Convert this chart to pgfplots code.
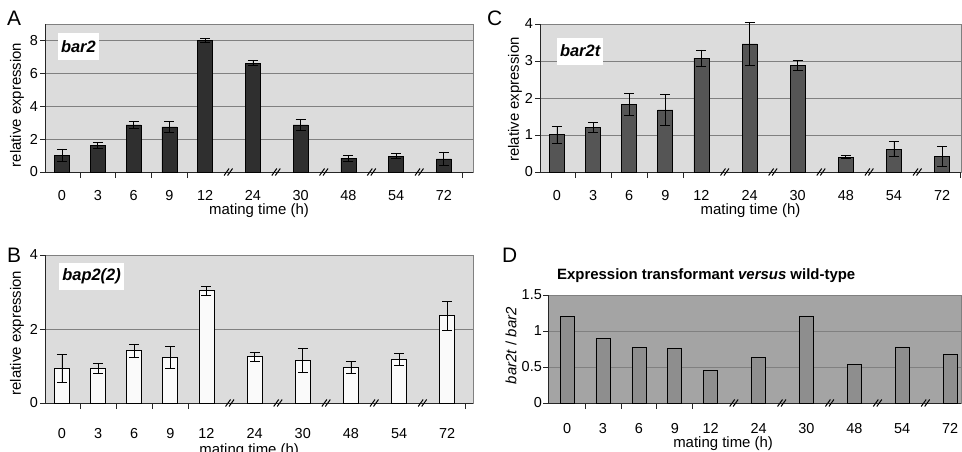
\documentclass[border=0pt]{standalone}
\usepackage{pgfplots}
\pgfplotsset{compat=1.18}
\usepackage{fontspec}
\setmainfont{Liberation Sans}

\definecolor{bgl}{HTML}{DCDCDC}
\definecolor{bgd}{HTML}{A4A4A4}
\definecolor{barA}{HTML}{2F2F2F}
\definecolor{barC}{HTML}{555555}
\definecolor{barB}{HTML}{FAFAFA}
\definecolor{barD}{HTML}{8E8E8E}
\definecolor{gridc}{HTML}{808080}

\pgfdeclareplotmark{brk}{%
  \pgfpathmoveto{\pgfqpoint{-5pt}{-3.5pt}}\pgfpathlineto{\pgfqpoint{0pt}{3.5pt}}%
  \pgfpathmoveto{\pgfqpoint{-1.5pt}{-3.5pt}}\pgfpathlineto{\pgfqpoint{3.5pt}{3.5pt}}%
  \pgfusepathqstroke}

\tikzset{
  lbl/.style={fill=white, inner xsep=3bp, inner ysep=0pt, minimum height=27bp, anchor=north west,
    font=\fontsize{16.5}{16.5}\selectfont\bfseries\itshape},
}

\pgfplotsset{
  panel/.style={
    scale only axis, clip=false, enlargelimits=false,
    axis background/.style={fill=bgl, draw=gridc, line width=0.8pt},
    axis x line*=bottom, axis y line*=left,
    axis line style={-, draw=black!85, line width=0.9pt},
    ymin=0,
    ymajorgrids, grid style={gridc, line width=0.9pt},
    xtick={0,1,2,3,4,5.3333,6.6667,8,9.3333,10.6667},
    xticklabels={0,3,6,9,12,24,30,48,54,72},
    major x tick style={draw=none},
    minor xtick={0.5,1.5,2.5,3.5,11.17},
    minor x tick style={draw=black!85, line width=0.8pt},
    minor tick length=6bp,
    xtick align=center,
    ytick align=outside,
    major tick length=5bp,
    y tick style={draw=black!85, line width=0.8pt},
    tick label style={font=\fontsize{14.5}{14.5}\selectfont},
    /pgf/number format/assume math mode=true,
    label style={font=\fontsize{15}{15}\selectfont},
    yticklabel style={anchor=east, inner sep=0pt, xshift=-2bp},
    ybar, bar width=15bp,
    error bars/y dir=both, error bars/y explicit,
    error bars/error bar style={black, line width=0.8pt},
    error bars/error mark options={rotate=90, mark size=5bp, line width=0.8pt, black},
  },
  brkmarks/.style={only marks, mark=brk, mark options={black, line width=1bp}, forget plot},
}

\begin{document}
\begin{tikzpicture}
\path[use as bounding box] (0,0) rectangle (962bp,-452bp);

% Panel letters
\node[anchor=base west, font=\fontsize{21}{21}\selectfont, inner sep=0pt] at (7bp,-25bp) {A};
\node[anchor=base west, font=\fontsize{21}{21}\selectfont, inner sep=0pt] at (487bp,-25bp) {C};
\node[anchor=base west, font=\fontsize{21}{21}\selectfont, inner sep=0pt] at (7bp,-262bp) {B};
\node[anchor=base west, font=\fontsize{21}{21}\selectfont, inner sep=0pt] at (502bp,-262bp) {D};

% ---------- A ----------
\begin{axis}[panel, at={(45bp,-172bp)}, anchor=south west,
  width=428bp, height=148bp, xmin=-0.475, xmax=11.48, ymax=9,
  ytick={0,2,4,6,8},
  xticklabel style={anchor=base, inner sep=0pt, yshift=-23bp},
  xlabel={mating time (h)},
  xlabel style={at={(axis description cs:0.5,0)}, anchor=base, inner sep=0pt, yshift=-42bp},
  ylabel={relative expression},
  ylabel style={at={(axis description cs:0,0.453)}, anchor=center, inner sep=0pt, yshift=28bp},
]
\addplot[fill=barA, draw=black, line width=0.6pt] table[x=x, y=y, y error=e] {
x y e
0 1.02 0.38
1 1.60 0.17
2 2.86 0.20
3 2.74 0.33
4 8.00 0.12
5.3333 6.62 0.14
6.6667 2.86 0.36
8 0.85 0.18
9.3333 0.97 0.14
10.6667 0.80 0.42
};
\addplot[brkmarks] coordinates {(4.6667,0) (6,0) (7.3333,0) (8.6667,0) (10,0)};
\node[lbl] at (rel axis cs:0.03,0.94) {bar2};
\end{axis}

% ---------- C ----------
\begin{axis}[panel, at={(540bp,-172bp)}, anchor=south west,
  width=421bp, height=148bp, xmin=-0.47, xmax=11.19, ymax=4,
  ytick={0,1,2,3,4},
  bar width=15bp,
  xticklabel style={anchor=base, inner sep=0pt, yshift=-23bp},
  xlabel={mating time (h)},
  xlabel style={at={(axis description cs:0.5,0)}, anchor=base, inner sep=0pt, yshift=-42bp},
  ylabel={relative expression},
  ylabel style={at={(axis description cs:0,0.49)}, anchor=center, inner sep=0pt, yshift=25bp},
]
\addplot[fill=barC, draw=black, line width=0.6pt] table[x=x, y=y, y error=e] {
x y e
0 1.01 0.23
1 1.21 0.13
2 1.83 0.30
3 1.68 0.42
4 3.08 0.22
5.3333 3.46 0.57
6.6667 2.88 0.14
8 0.40 0.04
9.3333 0.62 0.20
10.6667 0.42 0.27
};
\addplot[brkmarks] coordinates {(4.6667,0) (6,0) (7.3333,0) (8.6667,0) (10,0)};
\node[lbl] at (rel axis cs:0.04,0.91) {bar2t};
\end{axis}

% ---------- B ----------
\begin{axis}[panel, at={(45bp,-403bp)}, anchor=south west,
  width=428bp, height=148bp, xmin=-0.47, xmax=11.38, ymax=4,
  ytick={0,2,4},
  xticklabel style={anchor=base, inner sep=0pt, yshift=-30bp},
  xlabel={mating time (h)},
  xlabel style={at={(axis description cs:0.477,0)}, anchor=base, inner sep=0pt, yshift=-51bp},
  ylabel={relative expression},
  ylabel style={at={(axis description cs:0,0.473)}, anchor=center, inner sep=0pt, yshift=28bp},
]
\addplot[fill=barB, draw=black, line width=0.8pt] table[x=x, y=y, y error=e] {
x y e
0 0.93 0.38
1 0.93 0.13
2 1.41 0.18
3 1.23 0.30
4 3.04 0.12
5.3333 1.25 0.12
6.6667 1.15 0.32
8 0.96 0.16
9.3333 1.17 0.16
10.6667 2.36 0.39
};
\addplot[brkmarks] coordinates {(4.6667,0) (6,0) (7.3333,0) (8.6667,0) (10,0)};
\node[lbl] at (rel axis cs:0.033,0.946) {bap2(2)};
\end{axis}

% ---------- D ----------
\begin{axis}[panel, at={(548bp,-403bp)}, anchor=south west,
  width=413bp, height=108bp, xmin=-0.53, xmax=10.97, ymax=1.5,
  axis background/.style={fill=bgd, draw=gridc, line width=0.8pt},
  ytick={0,0.5,1,1.5},
  yticklabels={0,0.5,1,1.5},
  minor xtick={0.5,1.5,2.5,3.5},
  bar width=14bp,
  xticklabel style={anchor=base, inner sep=0pt, yshift=-25bp},
  yticklabel style={xshift=1bp},
  xlabel={mating time (h)},
  xlabel style={at={(axis description cs:0.424,0)}, anchor=base, inner sep=0pt, yshift=-44bp},
  ylabel={\itshape bar2t\/ \upshape/ \itshape bar2},
  ylabel style={at={(axis description cs:0,0.53)}, anchor=center, inner sep=0pt, yshift=37bp},
]
\addplot[fill=barD, draw=black, line width=0.6pt, error bars/y dir=none] coordinates {
(0,1.20) (1,0.90) (2,0.77) (3,0.755) (4,0.45) (5.3333,0.63) (6.6667,1.21) (8,0.54) (9.3333,0.78) (10.6667,0.67)
};
\addplot[brkmarks] coordinates {(4.6667,0) (6,0) (7.3333,0) (8.6667,0) (10,0)};
\node[anchor=base, font=\fontsize{15}{15}\selectfont\bfseries, inner sep=0pt] at (axis description cs:0.383,1.148) {Expression transformant \textit{versus} wild-type};
\end{axis}
\end{tikzpicture}
\end{document}
